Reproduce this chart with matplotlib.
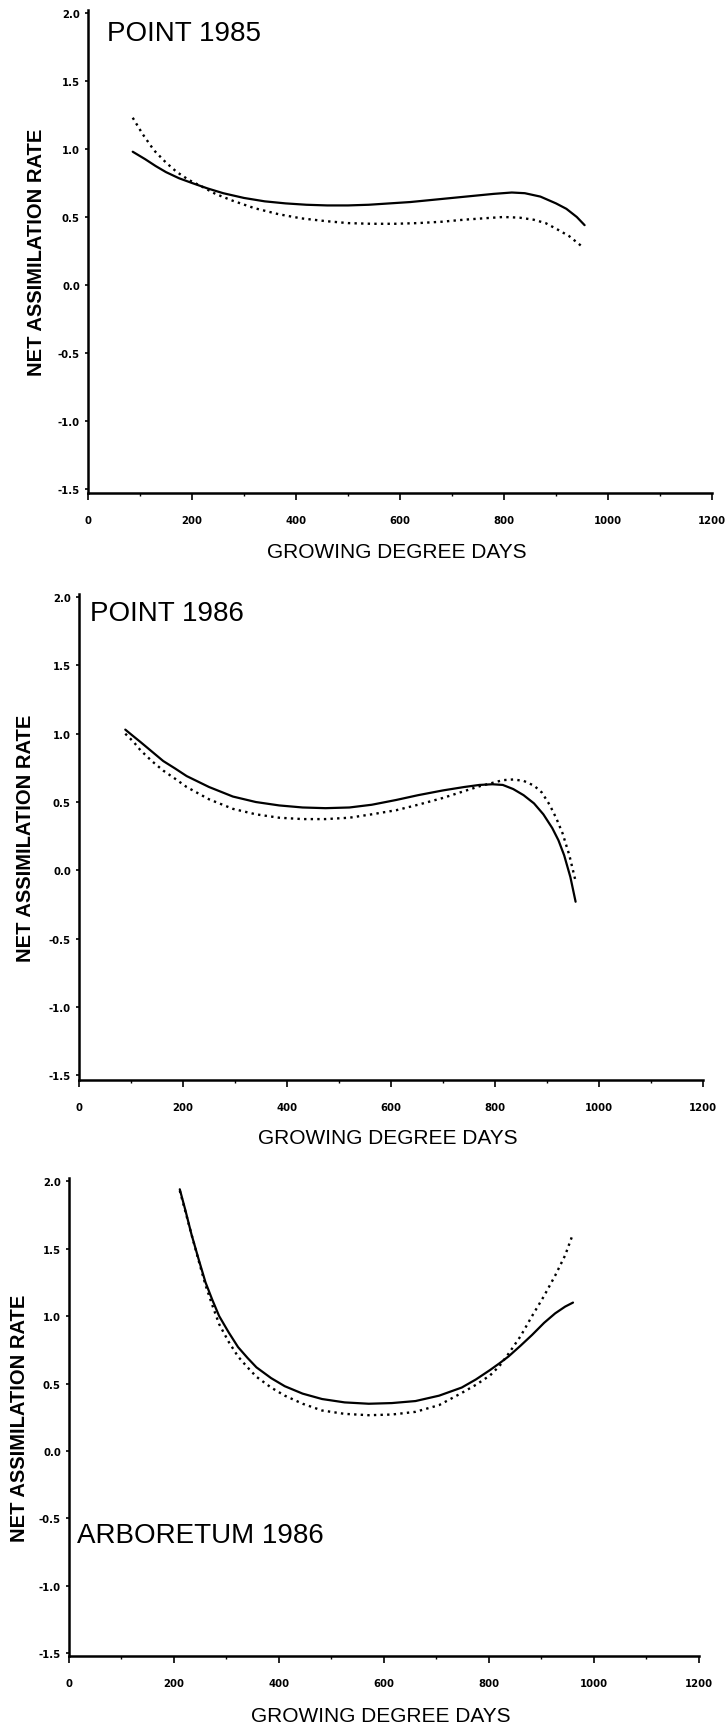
import matplotlib
matplotlib.use("Agg")
import matplotlib.pyplot as plt
from matplotlib.ticker import MultipleLocator

plt.rcParams['axes.unicode_minus'] = False

# ---- data (growing degree days vs net assimilation rate)
gdd_p85_solid = [86, 110, 130, 150, 175, 200, 230, 260, 300, 340, 380, 420, 460, 500, 540,
                 580, 620, 660, 700, 740, 780, 815, 840, 870, 900, 920, 940, 955]
nar_p85_solid = [0.98, 0.925, 0.875, 0.83, 0.785, 0.75, 0.71, 0.675, 0.64, 0.615, 0.60, 0.59,
                 0.585, 0.585, 0.59, 0.60, 0.61, 0.625, 0.64, 0.655, 0.67, 0.68, 0.675, 0.65,
                 0.60, 0.56, 0.50, 0.44]
gdd_p85_dot = [86, 105, 127, 150, 171, 195, 216, 245, 278, 320, 367, 410, 456, 500, 545, 590,
               634, 680, 723, 760, 799, 830, 857, 880, 902, 925, 951]
nar_p85_dot = [1.23, 1.11, 0.99, 0.90, 0.83, 0.77, 0.73, 0.67, 0.62, 0.565, 0.52, 0.49, 0.47,
               0.455, 0.45, 0.45, 0.455, 0.465, 0.48, 0.49, 0.50, 0.495, 0.48, 0.455, 0.41,
               0.36, 0.28]

gdd_p86_solid = [89, 105, 118, 140, 162, 185, 207, 250, 296, 340, 385, 430, 474, 520, 563, 610,
                 652, 700, 741, 770, 795, 815, 835, 855, 875, 893, 910, 922, 933, 945, 955]
nar_p86_solid = [1.03, 0.98, 0.94, 0.87, 0.80, 0.745, 0.69, 0.61, 0.54, 0.50, 0.475, 0.46,
                 0.455, 0.46, 0.48, 0.515, 0.55, 0.585, 0.61, 0.625, 0.63, 0.625, 0.595, 0.55,
                 0.49, 0.41, 0.31, 0.22, 0.11, -0.05, -0.23]
gdd_p86_dot = [89, 105, 118, 140, 162, 185, 207, 250, 296, 340, 385, 430, 474, 520, 563, 610,
               652, 700, 741, 770, 795, 815, 835, 855, 875, 890, 905, 918, 930, 943, 955]
nar_p86_dot = [1.00, 0.94, 0.88, 0.80, 0.73, 0.67, 0.61, 0.52, 0.45, 0.41, 0.385, 0.375, 0.375,
               0.385, 0.41, 0.44, 0.48, 0.53, 0.58, 0.615, 0.64, 0.66, 0.665, 0.655, 0.62,
               0.57, 0.48, 0.38, 0.27, 0.11, -0.08]

gdd_arb_solid = [211, 222, 233, 247, 260, 273, 286, 304, 322, 340, 357, 385, 411, 445, 482, 525,
                 571, 615, 660, 705, 748, 775, 802, 820, 837, 860, 882, 905, 926, 945, 960]
nar_arb_solid = [1.94, 1.78, 1.61, 1.42, 1.25, 1.12, 1.00, 0.88, 0.77, 0.69, 0.62, 0.54, 0.48,
                 0.425, 0.385, 0.36, 0.35, 0.355, 0.37, 0.41, 0.47, 0.53, 0.60, 0.65, 0.70,
                 0.78, 0.86, 0.95, 1.02, 1.07, 1.10]
gdd_arb_dot = [211, 222, 233, 247, 260, 273, 286, 304, 322, 340, 357, 385, 411, 445, 482, 525,
               571, 615, 660, 705, 748, 775, 802, 820, 837, 860, 882, 905, 926, 945, 960]
nar_arb_dot = [1.93, 1.77, 1.61, 1.41, 1.23, 1.08, 0.94, 0.81, 0.70, 0.62, 0.55, 0.47, 0.41,
               0.35, 0.30, 0.275, 0.265, 0.27, 0.29, 0.34, 0.43, 0.49, 0.56, 0.63, 0.72, 0.85,
               1.00, 1.15, 1.30, 1.45, 1.61]

y_ticks = [-1.5, -1.0, -0.5, 0.0, 0.5, 1.0, 1.5, 2.0]
y_tick_labels = ['-1.5', '-1.0', '-0.5', '0.0', '0.5', '1.0', '1.5', '2.0']
x_ticks = [0, 200, 400, 600, 800, 1000, 1200]
x_tick_labels = ['0', '200', '400', '600', '800', '1000', '1200']

panel_names = ['POINT 1985', 'POINT 1986', 'ARBORETUM 1986']

fig = plt.figure(figsize=(7.28, 17.33), dpi=100)

# axes boxes in figure fractions, per panel
boxes = [
    [0.12088, 0.71494, 0.85714, 0.27853],
    [0.10852, 0.37623, 0.85714, 0.28021],
    [0.09478, 0.04386, 0.86538, 0.27554],
]
ylims = [(-1.53, 2.02), (-1.535, 2.02), (-1.52, 2.02)]
ylabel_x = [-0.0833, -0.0857, -0.0784]
xlabel_y = [-0.1222, -0.1194, -0.1236]
name_pos = [(36, 1.85), (21, 1.885), (15, -0.62)]

series = [
    (gdd_p85_solid, nar_p85_solid, gdd_p85_dot, nar_p85_dot),
    (gdd_p86_solid, nar_p86_solid, gdd_p86_dot, nar_p86_dot),
    (gdd_arb_solid, nar_arb_solid, gdd_arb_dot, nar_arb_dot),
]

for i in range(3):
    ax = fig.add_axes(boxes[i])
    xs, ys, xd, yd = series[i]
    ax.plot(xs, ys, color='black', lw=1.6, solid_capstyle='round', solid_joinstyle='round')
    ax.plot(xd, yd, color='black', lw=1.7, linestyle=(0, (1, 1.8)))

    ax.set_xlim(0, 1200)
    ax.set_ylim(*ylims[i])
    for s in ['top', 'right']:
        ax.spines[s].set_visible(False)
    for s in ['left', 'bottom']:
        ax.spines[s].set_linewidth(1.8)

    ax.set_xticks(x_ticks)
    ax.set_xticklabels(x_tick_labels)
    ax.set_yticks(y_ticks)
    ax.set_yticklabels(y_tick_labels)
    ax.xaxis.set_minor_locator(MultipleLocator(100))
    ax.tick_params(axis='x', which='major', direction='out', length=5, width=1.2, pad=10.5)
    ax.tick_params(axis='x', which='minor', direction='out', length=2.5, width=1)
    ax.tick_params(axis='y', direction='out', length=2, width=1.2, pad=3.8)
    for lab in ax.get_xticklabels() + ax.get_yticklabels():
        lab.set_fontfamily('DejaVu Sans')
        lab.set_fontweight('bold')
        lab.set_fontsize(7.3)

    ax.set_ylabel('NET ASSIMILATION RATE', fontsize=14.5, fontfamily='Liberation Sans',
                  fontweight='bold')
    ax.yaxis.label.set_va('center')
    ax.yaxis.set_label_coords(ylabel_x[i], 0.5)
    ax.set_xlabel('GROWING DEGREE DAYS', fontsize=15, fontfamily='Liberation Sans')
    ax.xaxis.label.set_va('center')
    ax.xaxis.set_label_coords(0.495, xlabel_y[i])

    ax.text(name_pos[i][0], name_pos[i][1], panel_names[i], fontsize=20,
            fontfamily='Liberation Sans', ha='left', va='center')

fig.savefig('out.png', dpi=100)
